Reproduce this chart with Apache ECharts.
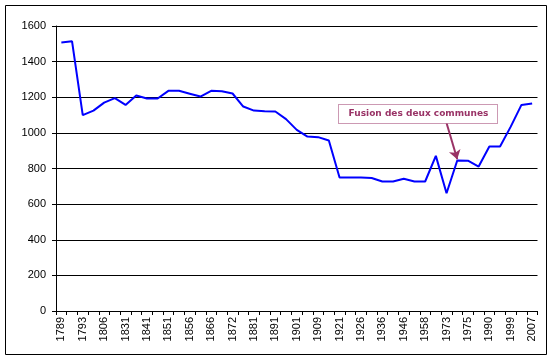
<!DOCTYPE html>
<html>
<head>
<meta charset="utf-8">
<script src="https://cdn.jsdelivr.net/npm/echarts@6/dist/echarts.min.js"></script>
<style>html,body{margin:0;padding:0;background:#fff}#c{width:552px;height:360px}</style>
</head>
<body>
<div id="c"></div>
<script>
var years = ['1789','1790','1793','1800','1806','1821','1831','1836','1841','1846','1851','1854','1856','1861','1866','1868','1872','1876','1881','1886','1891','1896','1901','1906','1909','1911','1921','1923','1926','1931','1936','1940','1946','1954','1958','1968','1973','1974','1975','1982','1990','1995','1999','2004','2007'];
var population = [1508,1514,1100,1125,1170,1195,1157,1210,1193,1193,1236,1236,1220,1204,1236,1234,1221,1148,1125,1122,1120,1077,1017,979,976,957,750,749,749,747,727,727,742,727,727,871,661,845,844,811,923,923,1035,1157,1165];
var annotationText = 'Fusion des deux communes';
var arrowFrom = ['1973', 1055];
var arrowTo = ['1974', 852];

var chart = echarts.init(document.getElementById('c'), null, {renderer: 'canvas'});
var font = 'Liberation Sans, Arial, sans-serif';
chart.setOption({
  backgroundColor: '#ffffff',
  animation: false,
  grid: {left: 56, right: 14.5, top: 26, bottom: 49, containLabel: false},
  xAxis: {
    type: 'category',
    data: years,
    boundaryGap: true,
    axisLine: {lineStyle: {color: '#000', width: 1}},
    axisTick: {show: true, interval: 0, length: 4, lineStyle: {color: '#000'}},
    axisLabel: {interval: 1, rotate: 90, margin: 6, color: '#000', fontSize: 11, fontFamily: font},
    splitLine: {show: false}
  },
  yAxis: {
    type: 'value',
    min: 0, max: 1600, interval: 200,
    axisLine: {show: true, lineStyle: {color: '#000', width: 1}},
    axisTick: {show: true, length: 4, lineStyle: {color: '#000'}},
    axisLabel: {margin: 10, color: '#000', fontSize: 11, fontFamily: font, formatter: function (v) { return String(v); }},
    splitLine: {show: true, lineStyle: {color: '#000', width: 1}}
  },
  series: [{
    type: 'line',
    data: population,
    symbol: 'none',
    lineStyle: {color: '#0000ff', width: 2},
    markLine: {
      silent: true,
      symbol: ['none', 'arrow'],
      symbolSize: 9,
      label: {show: false},
      lineStyle: {color: '#993366', width: 2, type: 'solid'},
      data: [[{coord: arrowFrom}, {coord: arrowTo}]]
    }
  }],
  graphic: [
    {type: 'rect', shape: {x: 5.5, y: 5.5, width: 541, height: 349}, style: {fill: 'none', stroke: '#000', lineWidth: 1}, silent: true},
    {type: 'rect', shape: {x: 338.5, y: 104.5, width: 159, height: 19}, style: {fill: '#fff', stroke: '#993366', lineWidth: 1, lineDash: [1, 1]}, silent: true, z: 10},
    {type: 'text', x: 418.5, y: 114, style: {text: annotationText, fill: '#993366', font: 'bold 9px "DejaVu Sans", Verdana, sans-serif', align: 'center', verticalAlign: 'middle'}, silent: true, z: 11}
  ]
});
</script>
</body>
</html>
